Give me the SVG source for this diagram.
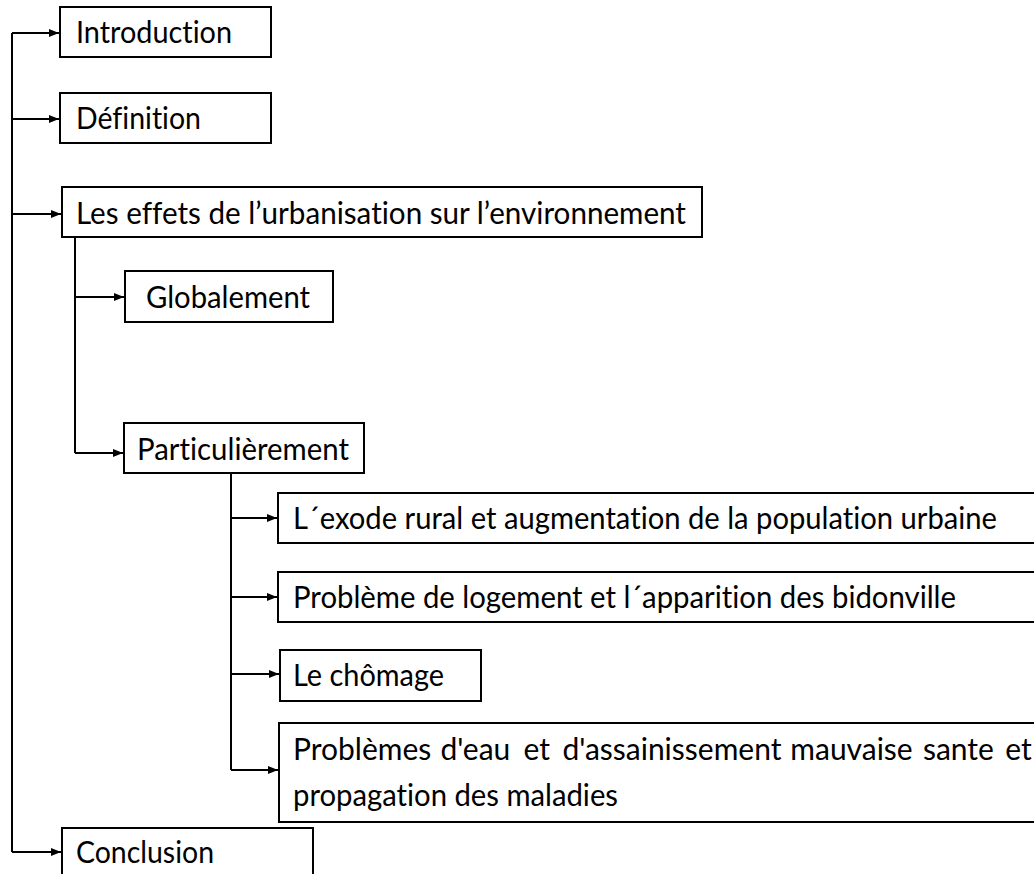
<svg xmlns="http://www.w3.org/2000/svg" width="1034" height="874" viewBox="0 0 1034 874">
<style>
.box{fill:#fff;stroke:#000;stroke-width:2}
.lbl{font-family:Lato,"Open Sans","Liberation Sans",sans-serif;font-size:30px;fill:#000;font-variant-ligatures:none;font-feature-settings:"liga" 0,"clig" 0}
.con{fill:none;stroke:#000;stroke-width:2}
</style>
<defs>
<marker id="ah" viewBox="0 0 10 10" refX="10" refY="5" markerWidth="10" markerHeight="10" markerUnits="userSpaceOnUse" orient="auto">
<path d="M0,1 L10,5 L0,9 Z" fill="#000"/>
</marker>
</defs>
<rect width="1034" height="874" fill="#fff"/>
<g id="connectors">
<path class="con" d="M12,33 V852"/>
<path class="con" d="M12,33 H59" marker-end="url(#ah)"/>
<path class="con" d="M12,119 H59" marker-end="url(#ah)"/>
<path class="con" d="M12,214 H61" marker-end="url(#ah)"/>
<path class="con" d="M12,852 H61" marker-end="url(#ah)"/>
<path class="con" d="M75,237 V453"/>
<path class="con" d="M75,297 H124" marker-end="url(#ah)"/>
<path class="con" d="M75,453 H123" marker-end="url(#ah)"/>
<path class="con" d="M231,473 V770"/>
<path class="con" d="M231,518 H277" marker-end="url(#ah)"/>
<path class="con" d="M231,597 H277" marker-end="url(#ah)"/>
<path class="con" d="M231,674 H279" marker-end="url(#ah)"/>
<path class="con" d="M231,770 H278" marker-end="url(#ah)"/>
</g>
<g id="introduction">
<rect class="box" x="60" y="7" width="211" height="50"/>
<text class="lbl" x="76" y="43" textLength="156" lengthAdjust="spacingAndGlyphs">Introduction</text>
</g>
<g id="definition">
<rect class="box" x="60" y="93" width="211" height="50"/>
<text class="lbl" x="76" y="129" textLength="125" lengthAdjust="spacingAndGlyphs">Définition</text>
</g>
<g id="effets">
<rect class="box" x="62" y="187" width="640" height="50"/>
<text class="lbl" x="76" y="224" textLength="610" lengthAdjust="spacingAndGlyphs">Les effets de l’urbanisation sur l’environnement</text>
</g>
<g id="globalement">
<rect class="box" x="125" y="271" width="208" height="51"/>
<text class="lbl" x="146" y="308" textLength="164" lengthAdjust="spacingAndGlyphs">Globalement</text>
</g>
<g id="particulierement">
<rect class="box" x="124" y="423" width="240" height="50"/>
<text class="lbl" x="137" y="460" textLength="212" lengthAdjust="spacingAndGlyphs">Particulièrement</text>
</g>
<g id="exode">
<rect class="box" x="278" y="493" width="770" height="50"/>
<text class="lbl" x="293" y="529" textLength="704" lengthAdjust="spacingAndGlyphs">L´exode rural et augmentation de la population urbaine</text>
</g>
<g id="logement">
<rect class="box" x="278" y="572" width="770" height="50"/>
<text class="lbl" x="293" y="608" textLength="663" lengthAdjust="spacingAndGlyphs">Problème de logement et l´apparition des bidonville</text>
</g>
<g id="chomage">
<rect class="box" x="280" y="650" width="201" height="51"/>
<text class="lbl" x="293" y="686" textLength="151" lengthAdjust="spacingAndGlyphs">Le chômage</text>
</g>
<g id="eau">
<rect class="box" x="279" y="723" width="770" height="99"/>
<text class="lbl" y="760"><tspan x="293">Problèmes</tspan> <tspan x="440.5">d'eau</tspan> <tspan x="523.4">et</tspan> <tspan x="562.4">d'assainissement</tspan> <tspan x="790.3">mauvaise</tspan> <tspan x="922.9">sante</tspan> <tspan x="1005.2">et</tspan></text>
<text class="lbl" x="293" y="806" textLength="325" lengthAdjust="spacingAndGlyphs">propagation des maladies</text>
</g>
<g id="conclusion">
<rect class="box" x="62" y="828" width="251" height="60"/>
<text class="lbl" x="76" y="863" textLength="138" lengthAdjust="spacingAndGlyphs">Conclusion</text>
</g>
</svg>
